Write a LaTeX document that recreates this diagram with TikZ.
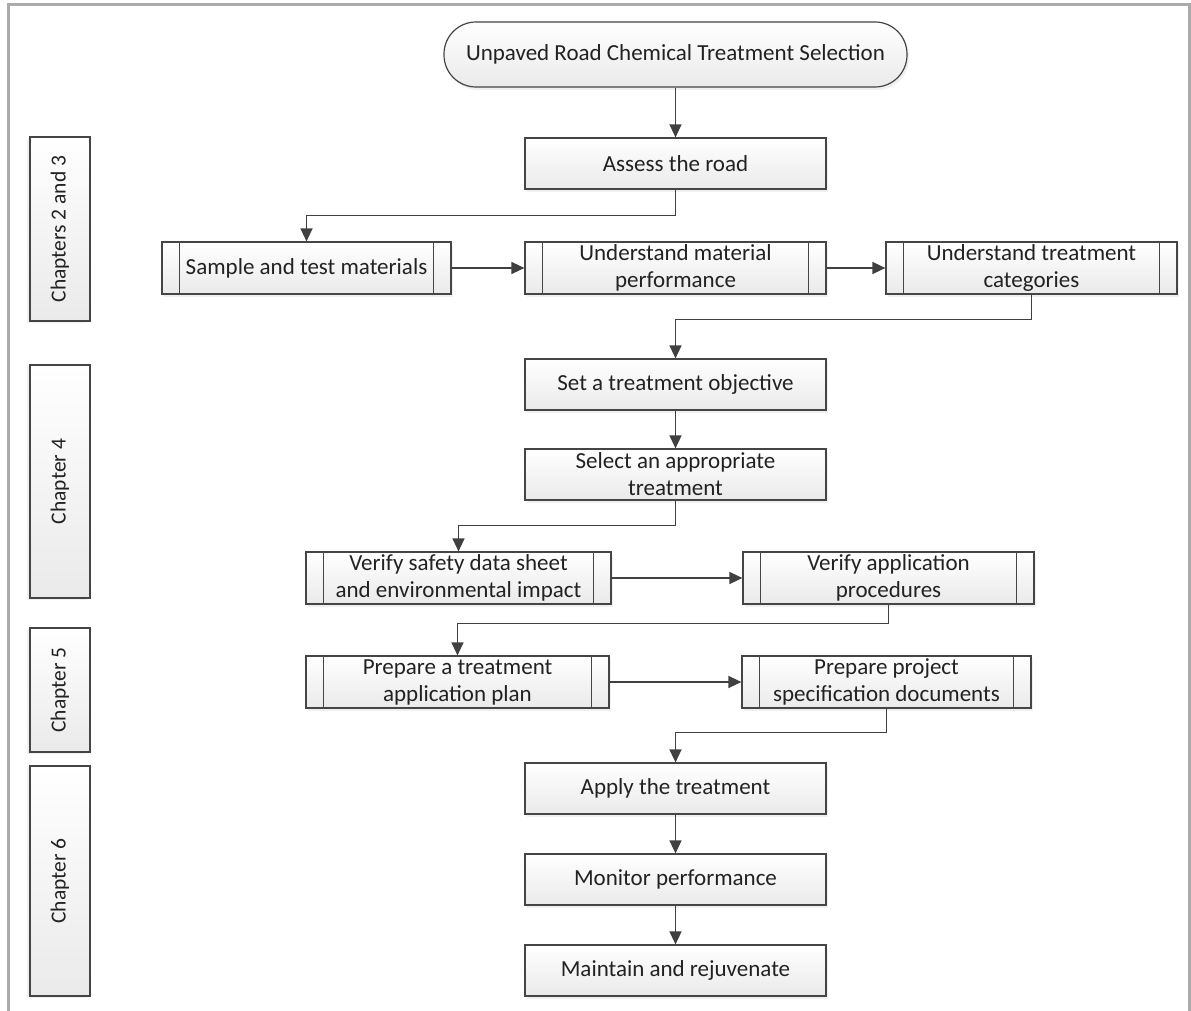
\documentclass[tikz,border=0pt]{standalone}
\usepackage{fontspec}
\setmainfont{Carlito}
\usetikzlibrary{arrows.meta,shadows}
\definecolor{linegray}{HTML}{404040}
\definecolor{boxgray}{HTML}{454545}
\definecolor{fillgray}{HTML}{EAEAEA}
\definecolor{framegray}{HTML}{ABABAB}
\definecolor{txt}{HTML}{222222}
\begin{document}
\begin{tikzpicture}[x=1pt,y=-1pt,
  conn/.style={draw=linegray, line width=1.4pt, -{Triangle[length=13pt,width=12pt]}},
  boxbase/.style={draw=boxgray, line width=1.2pt, top color=white, bottom color=fillgray,
     text=txt, align=center, inner sep=0pt, font=\fontsize{23}{27}\selectfont,
     drop shadow={shadow xshift=2pt, shadow yshift=-3pt, opacity=0.12}},
  proc/.style={boxbase, minimum width=301pt, minimum height=51pt},
  sub/.style={boxbase, minimum height=52pt},
  term/.style={boxbase, rounded corners=32pt, minimum width=463pt, minimum height=65pt},
  chap/.style={draw=boxgray, line width=1.2pt, top color=white, bottom color=fillgray,
     text=txt, align=center, inner sep=0pt, rotate=90,
     drop shadow={shadow xshift=-3pt, shadow yshift=-2pt, opacity=0.12},
     font=\fontsize{21.5}{25}\selectfont, minimum height=60pt},
  inner/.style={draw=boxgray, line width=1.2pt}
]
\useasboundingbox (0,0) rectangle (1191,1011);
\draw[framegray, line width=3pt] (8,1011) -- (8,5) -- (1189,5) -- (1189,1011);

% chapter labels
\node[chap, minimum width=184pt] (ch23) at (60,229) {Chapters 2 and 3};
\node[chap, minimum width=233pt] (ch4) at (60,481.5) {Chapter 4};
\node[chap, minimum width=124pt] (ch5) at (60,690) {Chapter 5};
\node[chap, minimum width=230pt] (ch6) at (60,881) {Chapter 6};

% flow
\node[term] (start) at (675.5,54.5) {Unpaved Road Chemical Treatment Selection};
\node[proc] (assess) at (675.5,163.5) {Assess the road};
\node[sub, minimum width=289pt] (sample) at (306.5,268) {Sample and test materials};
\node[sub, minimum width=301pt] (ump) at (675.5,268) {Understand material\\performance};
\node[sub, minimum width=291pt] (utc) at (1031.5,268) {Understand treatment\\categories};
\node[proc] (obj) at (675.5,384.5) {Set a treatment objective};
\node[proc] (sel) at (675.5,474.5) {Select an appropriate\\treatment};
\node[sub, minimum width=305pt] (vs) at (458.5,578) {Verify safety data sheet\\and environmental impact};
\node[sub, minimum width=291pt] (vap) at (888.5,578) {Verify application\\procedures};
\node[sub, minimum width=303pt] (ptp) at (457.5,682) {Prepare a treatment\\application plan};
\node[sub, minimum width=289pt] (psd) at (886.5,682) {Prepare project\\specification documents};
\node[proc] (apply) at (675.5,788.5) {Apply the treatment};
\node[proc] (mon) at (675.5,879.5) {Monitor performance};
\node[proc] (maint) at (675.5,970.5) {Maintain and rejuvenate};

\foreach \n in {sample,ump,utc,vs,vap,ptp,psd}{
  \draw[inner] ([xshift=18pt]\n.north west) -- ([xshift=18pt]\n.south west)
               ([xshift=-18pt]\n.north east) -- ([xshift=-18pt]\n.south east);
}

% connectors
\draw[conn] (start) -- (assess);
\draw[conn] (assess.south) -- ++(0,26) -| (sample.north);
\draw[conn] (sample) -- (ump);
\draw[conn] (ump) -- (utc);
\draw[conn] (utc.south) -- ++(0,25) -| (obj.north);
\draw[conn] (obj) -- (sel);
\draw[conn] (sel.south) -- ++(0,25) -| (vs.north);
\draw[conn] (vs) -- (vap);
\draw[conn] (vap.south) -- ++(0,19) -| (ptp.north);
\draw[conn] (ptp) -- (psd);
\draw[conn] (psd.south) -- ++(0,24) -| (apply.north);
\draw[conn] (apply) -- (mon);
\draw[conn] (mon) -- (maint);
\end{tikzpicture}
\end{document}
